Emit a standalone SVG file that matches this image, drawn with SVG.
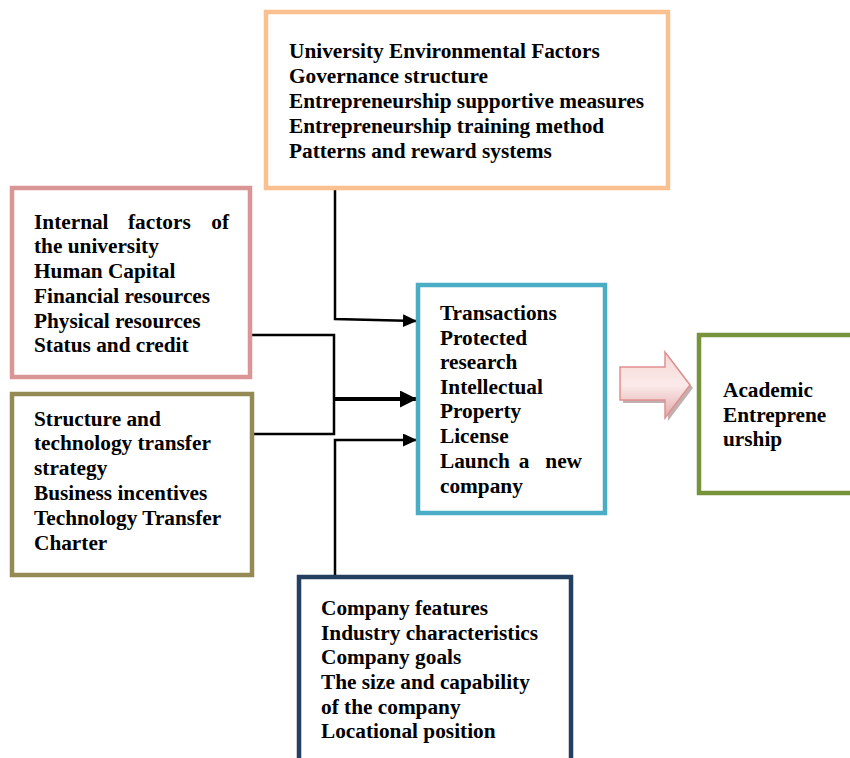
<svg xmlns="http://www.w3.org/2000/svg" width="850" height="758" viewBox="0 0 850 758">
<style>
text{font-family:"Liberation Serif","Times New Roman",serif;font-weight:bold;font-size:21.3px;fill:#000}
.box{fill:#fff;stroke-width:4.5}
.conn{fill:none;stroke:#000;stroke-width:2.5}
</style>
<defs>
<marker id="ah" markerWidth="14" markerHeight="13" refX="13" refY="6.5" orient="auto" markerUnits="userSpaceOnUse" viewBox="0 0 14 13">
<path d="M0,0 L14,6.5 L0,13 z" fill="#000"/>
</marker>
<marker id="ah2" markerWidth="17" markerHeight="17" refX="16" refY="8.5" orient="auto" markerUnits="userSpaceOnUse" viewBox="0 0 17 17">
<path d="M0,0 L17,8.5 L0,17 z" fill="#000"/>
</marker>
<linearGradient id="pg" x1="0" y1="0" x2="0" y2="1">
<stop offset="0" stop-color="#F6D6D5"/>
<stop offset="0.5" stop-color="#FBEAEA"/>
<stop offset="1" stop-color="#E2A9A8"/>
</linearGradient>
</defs>
<rect width="850" height="758" fill="#fff"/>

<g id="connectors">
<polyline class="conn" points="335,189 335,319 416,321" marker-end="url(#ah)"/>
<polyline class="conn" points="252,335 334,335 334,434 254,434"/>
<line x1="334" y1="399" x2="416" y2="399" stroke="#000" stroke-width="4" marker-end="url(#ah2)"/>
<polyline class="conn" points="335,575 335,440 416,440" marker-end="url(#ah)"/>
</g>

<g id="university-env">
<rect class="box" x="266" y="12" width="402" height="176" stroke="#FAC090"/>
<text x="289" y="58">University Environmental Factors</text>
<text x="289" y="83">Governance structure</text>
<text x="289" y="108">Entrepreneurship supportive measures</text>
<text x="289" y="133">Entrepreneurship training method</text>
<text x="289" y="158">Patterns and reward systems</text>
</g>

<g id="internal">
<rect class="box" x="12" y="188" width="238" height="189" stroke="#D99694"/>
<text x="34" y="229">Internal</text>
<text x="128" y="229">factors</text>
<text x="229" y="229" text-anchor="end">of</text>
<text x="34" y="253">the university</text>
<text x="34" y="278">Human Capital</text>
<text x="34" y="303">Financial resources</text>
<text x="34" y="328">Physical resources</text>
<text x="34" y="352">Status and credit</text>
</g>

<g id="structure">
<rect class="box" x="12" y="394" width="240" height="181" stroke="#948A54"/>
<text x="34" y="426">Structure and</text>
<text x="34" y="450">technology transfer</text>
<text x="34" y="475">strategy</text>
<text x="34" y="500">Business incentives</text>
<text x="34" y="525">Technology Transfer</text>
<text x="34" y="550">Charter</text>
</g>

<g id="transactions">
<rect class="box" x="418" y="285" width="187" height="228" stroke="#4BACC6"/>
<text x="440" y="320">Transactions</text>
<text x="440" y="345">Protected</text>
<text x="440" y="369">research</text>
<text x="440" y="394">Intellectual</text>
<text x="440" y="418">Property</text>
<text x="440" y="443">License</text>
<text x="440" y="468">Launch</text>
<text x="524" y="468" text-anchor="middle">a</text>
<text x="582" y="468" text-anchor="end">new</text>
<text x="440" y="493">company</text>
</g>

<g id="big-arrow">
<path d="M623,370 L668,370 L668,355 L693,388 L668,421 L668,403 L623,403 z" fill="#A88F8F" opacity="0.7"/>
<path d="M620,367 L665,367 L665,352 L690,385 L665,418 L665,400 L620,400 z" fill="url(#pg)" stroke="#E0908E" stroke-width="1.5"/>
</g>

<g id="academic">
<rect class="box" x="699" y="335" width="160" height="158" stroke="#77933C"/>
<text x="723" y="397">Academic</text>
<text x="723" y="422">Entreprene</text>
<text x="723" y="446">urship</text>
</g>

<g id="company">
<rect class="box" x="299" y="577" width="272" height="190" stroke="#243F60"/>
<text x="321" y="615">Company features</text>
<text x="321" y="640">Industry characteristics</text>
<text x="321" y="664">Company goals</text>
<text x="321" y="689">The size and capability</text>
<text x="321" y="714">of the company</text>
<text x="321" y="738">Locational position</text>
</g>
</svg>
